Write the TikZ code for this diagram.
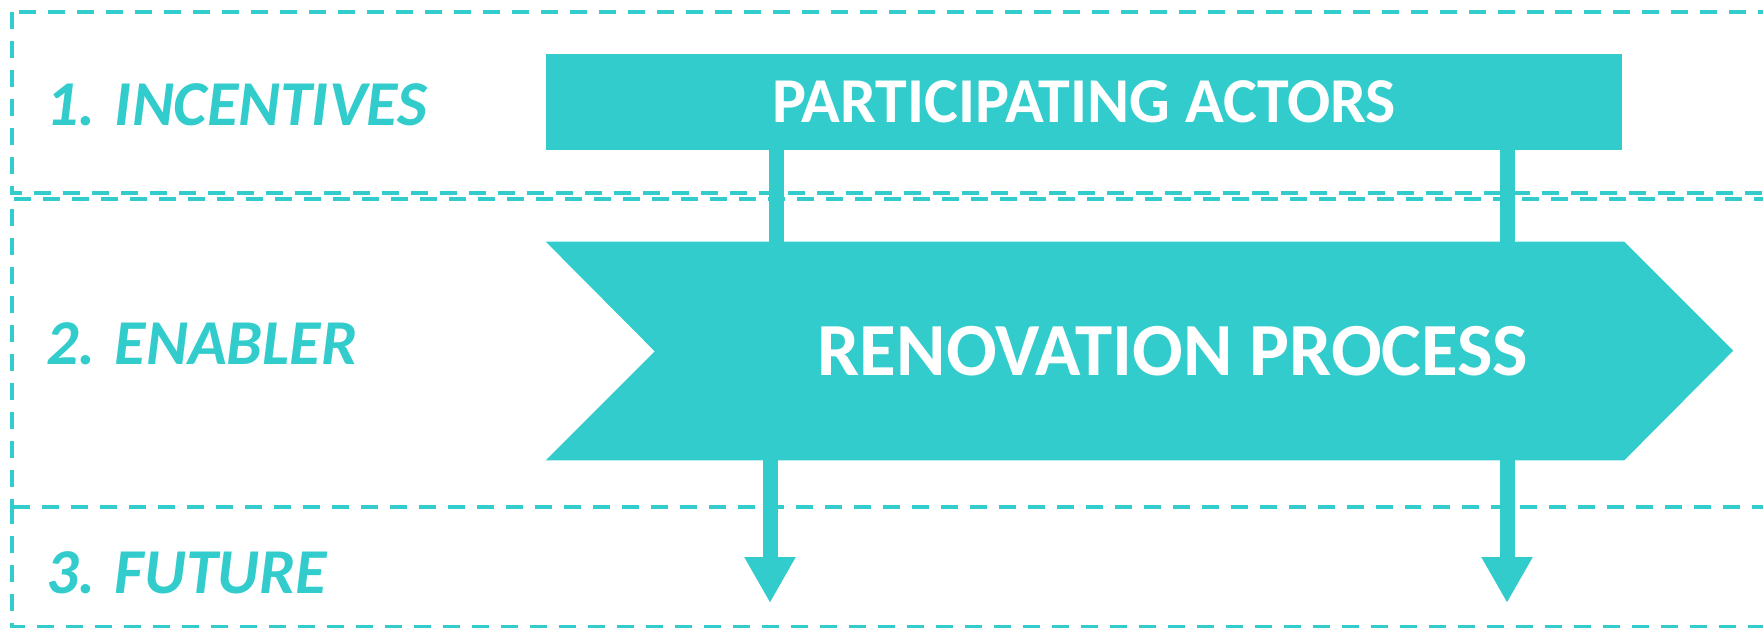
\documentclass[tikz,border=0pt]{standalone}
\usepackage{fontspec}
\setmainfont{Carlito}
\usepackage{tikz}
\usetikzlibrary{arrows,arrows.meta,calc,positioning}
\definecolor{aqua}{RGB}{51,204,204}

\begin{document}
\begin{tikzpicture}[x=0.02cm,y=-0.02cm]
          \useasboundingbox (0,0) rectangle (1763,628);
          \clip (0,0) rectangle (1763,628);

          % rows
          \draw[draw=aqua, line width=0.08cm, dash pattern=on 0.34cm off 0.24cm] (12,12) rectangle (1800,193);
          \draw[draw=aqua, line width=0.08cm, dash pattern=on 0.34cm off 0.24cm] (1800,199) -- (12,199) -- (12,507);
          \draw[draw=aqua, line width=0.08cm, dash pattern=on 0.34cm off 0.24cm] (12,507) rectangle (1800,627);

          \node[anchor=base west, text=aqua, font=\bfseries\itshape\fontsize{36.4}{42}\selectfont] (Incentives) at (40,126) {1. INCENTIVES};
          \node[anchor=base west, text=aqua, font=\bfseries\itshape\fontsize{36.4}{42}\selectfont] (Enabler) at (40,364) {2. ENABLER};
          \node[anchor=base west, text=aqua, font=\bfseries\itshape\fontsize{36.4}{42}\selectfont] (Future) at (40,593) {3. FUTURE};

          \node[fill=aqua, text=white, minimum width=21.52cm, minimum height=1.92cm, inner sep=0, font=\bfseries\fontsize{36.4}{42}\selectfont] (Actors) at (1084,102) {PARTICIPATING ACTORS};

          \node[minimum width=21.56cm, minimum height=4.36cm, inner sep=0] (Process) at (1085,351) {};
          \fill[aqua] (Process.north west) -- (Process.north east) -- ++(109,109) -- (Process.south east) -- (Process.south west) -- ++(109,-109) -- cycle;
          \node[text=white, font=\bfseries\fontsize{42.7}{48}\selectfont] (ProcessText) at (1173,351) {RENOVATION PROCESS};

          \coordinate (LeftUp) at (776,0);
          \coordinate (RightUp) at (1507,0);
          \coordinate (LeftDown) at (770,0);
          \coordinate (RightDown) at (1507,0);
          \coordinate (Tip) at (0,603);

          \draw[draw=aqua, line width=0.3cm] (Actors.south -| LeftUp) to (Process.north -| LeftUp);
          \draw[draw=aqua, line width=0.3cm] (Actors.south -| RightUp) to (Process.north -| RightUp);
          \draw[-{Triangle[width=0.96cm,length=0.92cm]}, draw=aqua, fill=aqua, line width=0.3cm] (Process.south -| LeftDown) to (Tip -| LeftDown);
          \draw[-{Triangle[width=0.96cm,length=0.92cm]}, draw=aqua, fill=aqua, line width=0.3cm] (Process.south -| RightDown) to (Tip -| RightDown);
        \end{tikzpicture}
\end{document}
